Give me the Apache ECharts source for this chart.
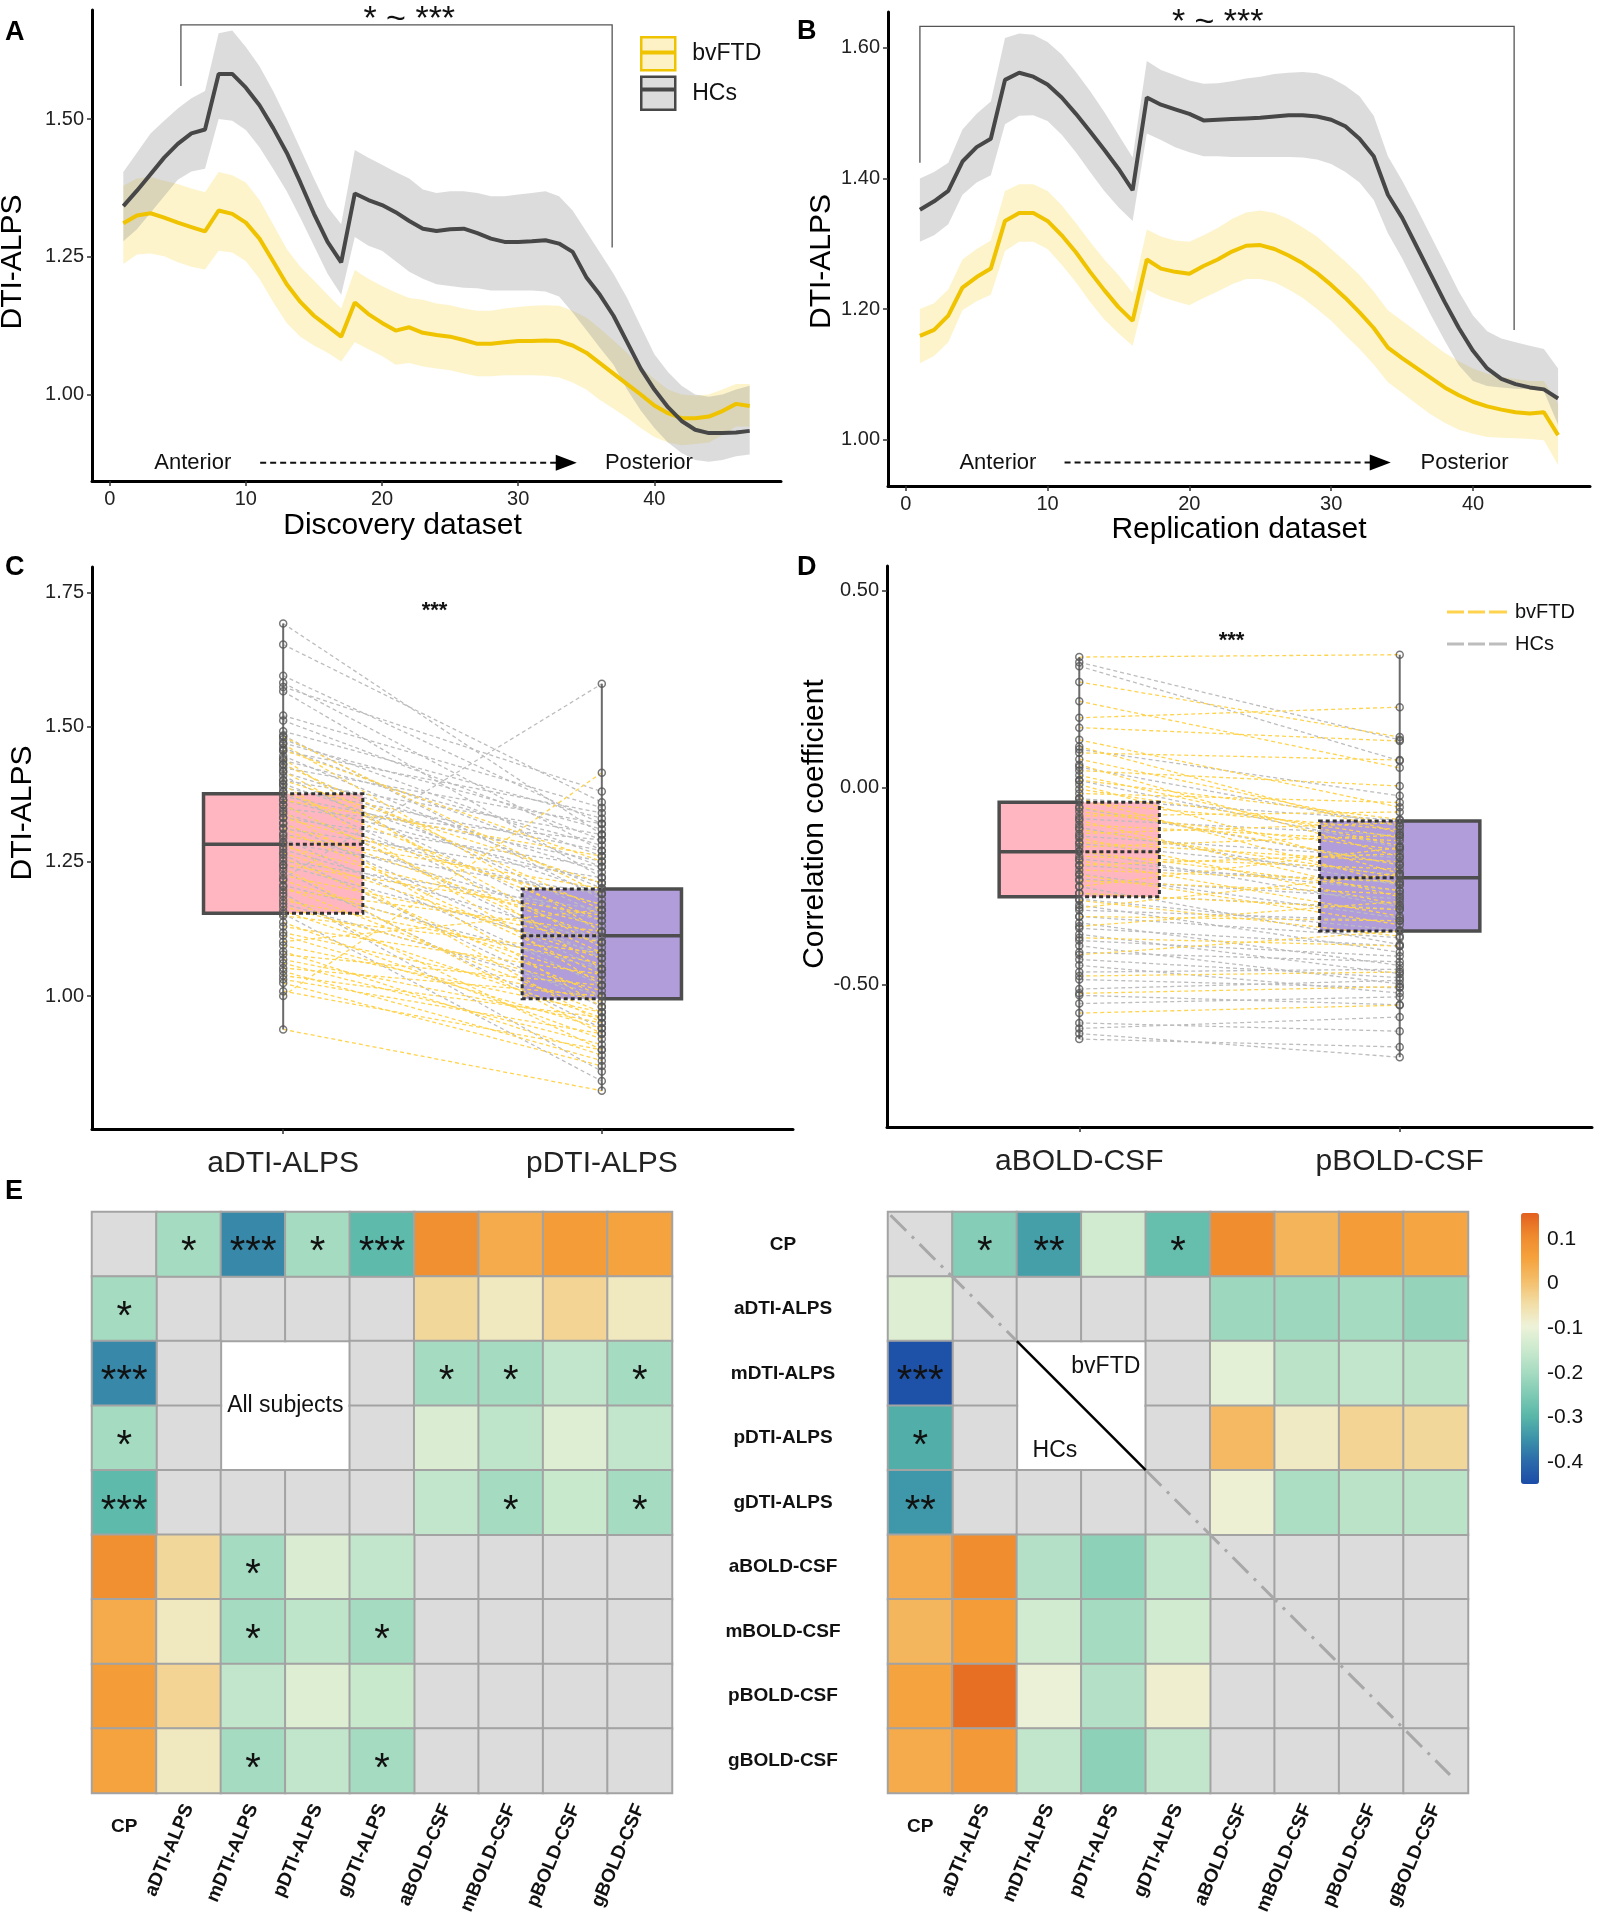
<!DOCTYPE html>
<html><head><meta charset="utf-8">
<script src="https://cdn.jsdelivr.net/npm/echarts@6/dist/echarts.min.js"></script>
<style>html,body{margin:0;padding:0;background:#fff}#c{width:1597px;height:1920px}</style>
</head><body><div id="c"></div>
<script>
// ---------- Panel A: Discovery dataset ----------
const hcA = [1.342,1.37,1.40,1.43,1.455,1.474,1.481,1.582,1.582,1.557,1.525,1.484,1.439,1.385,1.328,1.277,1.240,1.365,1.353,1.344,1.331,1.315,1.301,1.297,1.300,1.301,1.293,1.283,1.277,1.277,1.278,1.280,1.274,1.259,1.213,1.181,1.143,1.095,1.047,1.009,0.977,0.952,0.936,0.930,0.930,0.931,0.934];
const hcA_hi = [1.404,1.439,1.474,1.497,1.519,1.538,1.551,1.656,1.661,1.631,1.596,1.551,1.50,1.446,1.392,1.341,1.309,1.444,1.43,1.417,1.404,1.392,1.372,1.366,1.369,1.369,1.366,1.36,1.36,1.363,1.366,1.369,1.36,1.334,1.296,1.258,1.219,1.175,1.124,1.073,1.041,1.016,1.0,0.996,1.0,1.009,1.016];
const hcA_lo = [1.278,1.30,1.33,1.36,1.39,1.405,1.41,1.50,1.497,1.48,1.449,1.41,1.369,1.321,1.27,1.219,1.181,1.286,1.27,1.261,1.242,1.223,1.21,1.20,1.197,1.194,1.193,1.189,1.189,1.189,1.189,1.187,1.178,1.149,1.117,1.085,1.054,1.009,0.971,0.939,0.913,0.894,0.881,0.878,0.881,0.888,0.891];
const bvA = [1.311,1.325,1.329,1.321,1.312,1.304,1.296,1.334,1.328,1.312,1.283,1.242,1.20,1.168,1.143,1.124,1.105,1.167,1.146,1.130,1.116,1.122,1.112,1.108,1.105,1.099,1.092,1.092,1.095,1.097,1.097,1.098,1.097,1.089,1.076,1.057,1.038,1.019,1.0,0.98,0.966,0.957,0.957,0.960,0.970,0.983,0.979];
const bvA_hi = [1.379,1.392,1.395,1.388,1.382,1.374,1.367,1.404,1.398,1.385,1.353,1.309,1.264,1.232,1.207,1.181,1.156,1.226,1.21,1.197,1.185,1.175,1.172,1.165,1.162,1.156,1.152,1.152,1.156,1.159,1.161,1.162,1.161,1.152,1.14,1.12,1.098,1.076,1.05,1.028,1.009,1.0,0.998,1.0,1.009,1.019,1.019];
const bvA_lo = [1.237,1.254,1.256,1.251,1.24,1.232,1.227,1.261,1.258,1.242,1.21,1.168,1.13,1.105,1.089,1.076,1.06,1.095,1.082,1.07,1.054,1.057,1.051,1.047,1.044,1.038,1.033,1.033,1.035,1.035,1.035,1.034,1.031,1.022,1.009,0.99,0.974,0.958,0.939,0.923,0.913,0.908,0.91,0.913,0.926,0.942,0.942];

// ---------- Panel B: Replication dataset ----------
const hcB = [1.352,1.365,1.381,1.426,1.448,1.461,1.551,1.562,1.556,1.544,1.524,1.499,1.472,1.444,1.415,1.382,1.524,1.513,1.506,1.499,1.489,1.490,1.491,1.492,1.493,1.495,1.497,1.497,1.495,1.490,1.480,1.461,1.434,1.375,1.340,1.297,1.254,1.211,1.171,1.136,1.109,1.093,1.085,1.080,1.077,1.063];
const hcB_hi = [1.40,1.41,1.424,1.475,1.499,1.518,1.615,1.622,1.620,1.609,1.590,1.563,1.534,1.502,1.467,1.432,1.580,1.566,1.558,1.550,1.545,1.546,1.549,1.553,1.556,1.560,1.562,1.563,1.561,1.554,1.542,1.526,1.496,1.434,1.397,1.356,1.313,1.27,1.227,1.19,1.166,1.155,1.149,1.144,1.139,1.109];
const hcB_lo = [1.303,1.313,1.330,1.375,1.394,1.405,1.483,1.496,1.497,1.488,1.467,1.44,1.41,1.381,1.356,1.335,1.469,1.459,1.448,1.44,1.434,1.434,1.433,1.433,1.433,1.433,1.433,1.432,1.429,1.422,1.41,1.394,1.367,1.316,1.278,1.235,1.192,1.152,1.114,1.09,1.082,1.08,1.078,1.077,1.074,1.023];
const bvB = [1.159,1.168,1.19,1.233,1.249,1.262,1.335,1.347,1.347,1.335,1.313,1.287,1.257,1.229,1.203,1.182,1.276,1.262,1.257,1.254,1.266,1.276,1.288,1.297,1.298,1.292,1.282,1.270,1.255,1.237,1.217,1.195,1.171,1.141,1.125,1.110,1.095,1.080,1.068,1.058,1.051,1.046,1.042,1.040,1.042,1.007];
const bvB_hi = [1.20,1.209,1.23,1.276,1.292,1.305,1.381,1.391,1.391,1.381,1.359,1.332,1.303,1.276,1.252,1.225,1.322,1.311,1.305,1.303,1.313,1.324,1.338,1.348,1.351,1.347,1.338,1.325,1.311,1.292,1.273,1.252,1.227,1.198,1.182,1.166,1.149,1.133,1.12,1.109,1.101,1.096,1.093,1.09,1.09,1.055];
const bvB_lo = [1.117,1.128,1.149,1.198,1.212,1.222,1.289,1.303,1.303,1.292,1.268,1.241,1.211,1.184,1.163,1.144,1.23,1.219,1.212,1.206,1.217,1.227,1.238,1.246,1.246,1.241,1.23,1.217,1.2,1.182,1.16,1.139,1.115,1.088,1.072,1.055,1.039,1.026,1.015,1.009,1.004,1.003,1.002,1.001,0.999,0.961];

// ---------- Panel C: aDTI-ALPS vs pDTI-ALPS (paired) ----------
const catsC = ['aDTI-ALPS','pDTI-ALPS'];
const aC_bv = [1.482,1.468,1.457,1.441,1.430,1.418,1.401,1.393,1.380,1.364,1.355,1.343,1.331,1.320,1.312,1.298,1.286,1.278,1.266,1.257,1.244,1.238,1.224,1.215,1.203,1.197,1.186,1.178,1.166,1.158,1.149,1.137,1.129,1.118,1.112,1.101,1.094,1.083,1.077,1.068,1.061,1.052,1.046,1.038,1.031,1.024,1.009,1.000,0.938];
const pC_bv = [1.19,1.12,1.25,1.05,1.16,1.09,1.21,1.02,1.14,1.26,1.08,0.98,1.17,1.11,1.04,1.20,0.95,1.13,1.07,1.00,1.15,0.93,1.10,1.03,0.97,1.12,0.90,1.06,1.01,0.96,1.08,0.92,1.04,0.99,0.94,1.16,0.97,0.89,1.02,0.95,0.91,1.00,0.88,0.96,0.93,0.87,0.90,1.415,0.824];
const aC_hc = [1.692,1.653,1.595,1.582,1.574,1.566,1.521,1.512,1.492,1.484,1.477,1.470,1.461,1.455,1.446,1.438,1.431,1.424,1.416,1.409,1.401,1.394,1.387,1.379,1.371,1.364,1.356,1.348,1.339,1.331,1.322,1.311,1.302,1.293,1.284,1.272,1.263,1.251,1.243,1.232,1.218,1.206,1.191,1.172,1.153];
const pC_hc = [1.30,1.36,1.32,1.27,1.38,1.22,1.35,1.29,1.33,1.18,1.26,1.31,1.24,1.34,1.20,1.28,1.15,1.32,1.23,1.12,1.30,1.19,1.27,1.10,1.25,1.21,1.07,1.29,1.17,1.24,1.05,1.22,1.14,1.02,1.19,1.10,0.98,1.16,1.08,0.94,1.58,1.05,0.86,1.00,0.842];
const boxC_a = [1.154, 1.282, 1.376];   // q1, median, q3
const boxC_p = [0.995, 1.112, 1.199];

// ---------- Panel D: aBOLD-CSF vs pBOLD-CSF (paired) ----------
const catsD = ['aBOLD-CSF','pBOLD-CSF'];
const aD_bv = [0.331,0.268,0.219,0.177,0.152,0.121,0.104,0.088,0.072,0.058,0.043,0.031,0.019,0.008,-0.004,-0.015,-0.027,-0.038,-0.049,-0.061,-0.072,-0.083,-0.094,-0.106,-0.117,-0.128,-0.139,-0.151,-0.162,-0.174,-0.185,-0.197,-0.209,-0.221,-0.236,-0.251,-0.268,-0.286,-0.305,-0.327,-0.352,-0.381,-0.424,-0.478,-0.522,-0.572];
const pD_bv = [0.337,0.128,0.05,0.204,0.118,-0.05,-0.115,0.07,-0.098,-0.176,0.004,-0.148,-0.081,-0.218,-0.127,-0.038,-0.246,-0.107,-0.196,-0.158,-0.062,-0.277,-0.135,-0.226,-0.089,-0.298,-0.188,-0.121,-0.261,-0.207,-0.326,-0.168,-0.238,-0.348,-0.27,-0.152,-0.31,-0.377,-0.218,-0.338,-0.289,-0.402,-0.364,-0.468,-0.505,-0.552];
const aD_hc = [0.318,0.308,0.097,0.052,0.018,-0.028,-0.052,-0.079,-0.101,-0.123,-0.142,-0.161,-0.181,-0.198,-0.219,-0.232,-0.251,-0.268,-0.283,-0.298,-0.311,-0.327,-0.343,-0.357,-0.372,-0.388,-0.401,-0.418,-0.436,-0.451,-0.468,-0.487,-0.511,-0.527,-0.548,-0.597,-0.611,-0.624,-0.638];
const pD_hc = [0.121,0.068,-0.021,-0.098,-0.152,-0.083,-0.197,-0.121,-0.248,-0.178,-0.221,-0.302,-0.262,-0.241,-0.331,-0.282,-0.398,-0.308,-0.362,-0.418,-0.338,-0.381,-0.451,-0.402,-0.472,-0.428,-0.498,-0.442,-0.482,-0.521,-0.461,-0.508,-0.489,-0.551,-0.531,-0.618,-0.582,-0.684,-0.658];
const boxD_a = [-0.277, -0.163, -0.037];
const boxD_p = [-0.364, -0.229, -0.085];

// ---------- Panel E: correlation matrices ----------
const vars = ['CP','aDTI-ALPS','mDTI-ALPS','pDTI-ALPS','gDTI-ALPS','aBOLD-CSF','mBOLD-CSF','pBOLD-CSF','gBOLD-CSF'];
const blankIdx = [2, 3];
const allR = [
  [null,-0.20,-0.36,-0.20,-0.29,0.095,0.04,0.07,0.055],
  [-0.20,null,null,null,null,-0.035,-0.07,-0.03,-0.07],
  [-0.36,null,null,null,null,-0.20,-0.20,-0.16,-0.20],
  [-0.20,null,null,null,null,-0.125,-0.165,-0.12,-0.16],
  [-0.29,null,null,null,null,-0.16,-0.20,-0.15,-0.20],
  [0.095,-0.035,-0.20,-0.125,-0.16,null,null,null,null],
  [0.04,-0.07,-0.20,-0.165,-0.20,null,null,null,null],
  [0.07,-0.03,-0.16,-0.12,-0.15,null,null,null,null],
  [0.055,-0.07,-0.20,-0.16,-0.20,null,null,null,null]
];
const allSig = [
  ['','*','***','*','***','','','',''],
  ['*','','','','','','','',''],
  ['***','','','','','*','*','','*'],
  ['*','','','','','','','',''],
  ['***','','','','','','*','','*'],
  ['','','*','','','','','',''],
  ['','','*','','*','','','',''],
  ['','','','','','','','',''],
  ['','','*','','*','','','','']
];
const grpR = [
  [null,-0.24,-0.33,-0.14,-0.28,0.10,0.025,0.07,0.05],
  [-0.12,null,null,null,null,-0.21,-0.21,-0.20,-0.22],
  [-0.44,null,null,null,null,-0.11,-0.17,-0.16,-0.17],
  [-0.31,null,null,null,null,0.015,-0.075,-0.03,-0.035],
  [-0.34,null,null,null,null,-0.09,-0.19,-0.17,-0.17],
  [0.04,0.10,-0.18,-0.23,-0.16,null,null,null,null],
  [0.02,0.07,-0.14,-0.20,-0.14,null,null,null,null],
  [0.055,0.14,-0.10,-0.18,-0.085,null,null,null,null],
  [0.04,0.075,-0.16,-0.23,-0.16,null,null,null,null]
];
const grpSig = [
  ['','*','**','','*','','','',''],
  ['','','','','','','','',''],
  ['***','','','','','','','',''],
  ['*','','','','','','','',''],
  ['**','','','','','','','',''],
  ['','','','','','','','',''],
  ['','','','','','','','',''],
  ['','','','','','','','',''],
  ['','','','','','','','','']
];
const cbTicks = [0.1, 0, -0.1, -0.2, -0.3, -0.4];

// =================== build ===================
const FONT = 'Liberation Sans, Arial, sans-serif';
const series = [];
function add(s){ series.push(s); return series.length - 1; }

function ribbon(lo, hi, color, ai){
  const xs = lo.map((_, i) => i + 1);
  return {type:'custom', xAxisIndex:ai, yAxisIndex:ai, silent:true, z:1, clip:true,
    data:[[xs[0], lo[0]]],
    renderItem:(p, api) => {
      const pts = [];
      for (let i = 0; i < xs.length; i++) pts.push(api.coord([xs[i], hi[i]]));
      for (let i = xs.length - 1; i >= 0; i--) pts.push(api.coord([xs[i], lo[i]]));
      return {type:'polygon', shape:{points:pts}, style:{fill:color}};
    }};
}
function meanLine(name, v, color, ai){
  return {type:'line', name, xAxisIndex:ai, yAxisIndex:ai, z:3, silent:true, showSymbol:false, symbol:'none',
    data: v.map((y, i) => [i + 1, y]), lineStyle:{color, width:4}, itemStyle:{color}};
}
const YEL = '#EFC300', DARK = '#474747';
add(ribbon(bvA_lo, bvA_hi, 'rgba(245,205,20,0.22)', 0));
add(ribbon(hcA_lo, hcA_hi, 'rgba(150,150,150,0.33)', 0));
add(meanLine('bvFTD', bvA, YEL, 0));
add(meanLine('HCs', hcA, DARK, 0));
add(ribbon(bvB_lo, bvB_hi, 'rgba(245,205,20,0.22)', 1));
add(ribbon(hcB_lo, hcB_hi, 'rgba(150,150,150,0.33)', 1));
add(meanLine('bvFTD', bvB, YEL, 1));
add(meanLine('HCs', hcB, DARK, 1));

function annot(ai, cfg){
  return {type:'custom', xAxisIndex:ai, yAxisIndex:ai, silent:true, clip:false, z:6,
    data:[[cfg.starX, cfg.starY]],
    renderItem:(p, api) => {
      const c = api.coord;
      const L = c([cfg.bl[0], cfg.bl[1]]), R = c([cfg.br[0], cfg.br[1]]), yt = c([0, cfg.btop])[1];
      const st = c([cfg.starX, cfg.starY]);
      const ay = c([0, cfg.arrY])[1];
      const a1 = c([cfg.arrX1, 0])[0], a2 = c([cfg.arrX2, 0])[0];
      const an = c([cfg.antX, 0])[0], po = c([cfg.posX, 0])[0];
      const tf = '22px ' + FONT;
      return {type:'group', children:[
        {type:'polyline', shape:{points:[[L[0],L[1]],[L[0],yt],[R[0],yt],[R[0],R[1]]]}, style:{stroke:'#555', lineWidth:1.3, fill:'none'}},
        {type:'text', x:st[0], y:st[1] + 9, style:{text:'* ~ ***', font:'34px ' + FONT, fill:'#111', align:'center', verticalAlign:'middle'}},
        {type:'text', x:an, y:ay, style:{text:'Anterior', font:tf, fill:'#111', align:'center', verticalAlign:'middle'}},
        {type:'text', x:po, y:ay, style:{text:'Posterior', font:tf, fill:'#111', align:'center', verticalAlign:'middle'}},
        {type:'line', shape:{x1:a1, y1:ay, x2:a2 - 20, y2:ay}, style:{stroke:'#111', lineWidth:2, lineDash:[6,4]}},
        {type:'polygon', shape:{points:[[a2, ay],[a2 - 21, ay - 8],[a2 - 21, ay + 8]]}, style:{fill:'#000'}}
      ]};
    }};
}
add(annot(0, {bl:[5.23,1.56], br:[36.9,1.267], btop:1.671, starX:22.0, starY:1.697, arrY:0.876, arrX1:11.05, arrX2:34.3, antX:6.1, posX:39.6}));
add(annot(1, {bl:[1.0,1.424], br:[42.9,1.168], btop:1.633, starX:22.0, starY:1.652, arrY:0.965, arrX1:11.2, arrX2:34.2, antX:6.5, posX:39.4}));

// ---- paired box panels ----
const PINK = '#FFB6C1', PURP = '#B09DDA';
function boxSeries(ai, ba, bp, dashed){
  return {type:'custom', xAxisIndex:ai, yAxisIndex:ai, silent:true, z: dashed ? 4 : 2, clip:false,
    encode:{x:0, y:1},
    data:[[1, ba[0], ba[1], ba[2], -1], [2, bp[0], bp[1], bp[2], 1]],
    renderItem:(p, api) => {
      const x = api.value(0), q1 = api.value(1), md = api.value(2), q3 = api.value(3), side = api.value(4);
      const xl = api.coord([x - 0.25, q3])[0], xc = api.coord([x, q3])[0], xr = api.coord([x + 0.25, q3])[0];
      const yt = api.coord([x, q3])[1], ym = api.coord([x, md])[1], yb = api.coord([x, q1])[1];
      const outer = side < 0 ? xl : xr, inner = side < 0 ? xr : xl;
      if (!dashed) {
        return {type:'group', children:[
          {type:'rect', shape:{x:xl, y:yt, width:xr - xl, height:yb - yt}, style:{fill: x === 1 ? PINK : PURP}},
          {type:'polyline', shape:{points:[[xc,yt],[outer,yt],[outer,yb],[xc,yb]]}, style:{stroke:'#4d4d4d', lineWidth:3.5, fill:'none'}},
          {type:'line', shape:{x1:outer, y1:ym, x2:xc, y2:ym}, style:{stroke:'#4d4d4d', lineWidth:3.5}}
        ]};
      }
      return {type:'group', children:[
        {type:'polyline', shape:{points:[[xc,yt],[inner,yt],[inner,yb],[xc,yb]]}, style:{stroke:'#333', lineWidth:3, lineDash:[4,3], fill:'none'}},
        {type:'line', shape:{x1:inner, y1:ym, x2:xc, y2:ym}, style:{stroke:'#333', lineWidth:3, lineDash:[4,3]}}
      ]};
    }};
}
function pairLines(ai, name, av, pv, color){
  return {type:'custom', name, xAxisIndex:ai, yAxisIndex:ai, silent:true, z:3, clip:false,
    encode:{x:0, y:1}, itemStyle:{color},
    data: av.map((a, i) => [1, a, pv[i]]),
    renderItem:(p, api) => {
      const s = api.coord([1, api.value(1)]), e = api.coord([2, api.value(2)]);
      return {type:'line', shape:{x1:s[0], y1:s[1], x2:e[0], y2:e[1]}, style:{stroke:color, lineWidth:1.3, lineDash:[4,3]}};
    }};
}
function whisker(ai, av, pv){
  const aMin = Math.min(...av), aMax = Math.max(...av), pMin = Math.min(...pv), pMax = Math.max(...pv);
  return [
    {type:'line', xAxisIndex:ai, yAxisIndex:ai, silent:true, z:5, symbol:'none', data:[[1,aMin],[1,aMax]], lineStyle:{color:'#6b6b6b', width:2}},
    {type:'line', xAxisIndex:ai, yAxisIndex:ai, silent:true, z:5, symbol:'none', data:[[2,pMin],[2,pMax]], lineStyle:{color:'#6b6b6b', width:2}}
  ];
}
function points(ai, av, pv){
  return {type:'scatter', xAxisIndex:ai, yAxisIndex:ai, silent:true, z:6, symbol:'circle', symbolSize:7,
    itemStyle:{color:'rgba(255,255,255,0)', borderColor:'#555', borderWidth:1.5},
    data: av.map(v => [1, v]).concat(pv.map(v => [2, v]))};
}
function stars(ai, x, y){
  return {type:'custom', xAxisIndex:ai, yAxisIndex:ai, silent:true, z:7, clip:false, data:[[x, y]],
    renderItem:(p, api) => { const c = api.coord([x, y]);
      return {type:'text', x:c[0], y:c[1], style:{text:'***', font:'bold 22px ' + FONT, fill:'#111', align:'center', verticalAlign:'middle'}}; }};
}
add(boxSeries(2, boxC_a, boxC_p, false));
add(pairLines(2, 'HCs', aC_hc, pC_hc, '#BDBDBD'));
add(pairLines(2, 'bvFTD', aC_bv, pC_bv, '#FFD34E'));
add(boxSeries(2, boxC_a, boxC_p, true));
whisker(2, aC_bv.concat(aC_hc), pC_bv.concat(pC_hc)).forEach(add);
add(points(2, aC_bv.concat(aC_hc), pC_bv.concat(pC_hc)));
add(stars(2, 1.475, 1.716));

add(boxSeries(3, boxD_a, boxD_p, false));
add(pairLines(3, 'HCs', aD_hc, pD_hc, '#BDBDBD'));
add(pairLines(3, 'bvFTD', aD_bv, pD_bv, '#FFD34E'));
add(boxSeries(3, boxD_a, boxD_p, true));
whisker(3, aD_bv.concat(aD_hc), pD_bv.concat(pD_hc)).forEach(add);
add(points(3, aD_bv.concat(aD_hc), pD_bv.concat(pD_hc)));
add(stars(3, 1.475, 0.372));

// ---- heatmaps ----
function heatSeries(mat, sig, xi, yi){
  const vals = [], grays = [];
  for (let i = 0; i < 9; i++) for (let j = 0; j < 9; j++) {
    const v = mat[i][j];
    const blank = blankIdx.includes(i) && blankIdx.includes(j);
    if (v === null) { if (!blank) grays.push([j, i, 0, '']); }
    else vals.push([j, i, v, sig[i][j]]);
  }
  const base = {type:'heatmap', xAxisIndex:xi, yAxisIndex:yi, silent:true,
    itemStyle:{borderColor:'#A3A3A3', borderWidth:2}, emphasis:{disabled:true}};
  add(Object.assign({}, base, {data:grays, itemStyle:{color:'#DCDCDC', borderColor:'#A3A3A3', borderWidth:2}, label:{show:false}}));
  const h = add(Object.assign({}, base, {data:vals,
    label:{show:true, formatter:p => p.data[3], fontSize:40, color:'#111', offset:[0, 9], fontFamily:FONT}}));
  return h;
}
const h1 = heatSeries(allR, allSig, 4, 4);
const h2 = heatSeries(grpR, grpSig, 7, 6);

add({type:'custom', xAxisIndex:6, yAxisIndex:5, silent:true, z:5, clip:false, data:[[3, 3]],
  renderItem:(p, api) => { const c = api.coord([3, 3]);
    return {type:'text', x:c[0], y:c[1], style:{text:'All subjects', font:'23px ' + FONT, fill:'#111', align:'center', verticalAlign:'middle'}}; }});
add({type:'custom', xAxisIndex:9, yAxisIndex:7, silent:true, z:5, clip:false, data:[[0, 0]],
  renderItem:(p, api) => {
    const c = api.coord;
    const d = {stroke:'#A8A8A8', lineWidth:3, lineDash:[22, 8, 3, 8]};
    const a = c([0.04, 0.05]), b = c([2, 2]), e = c([4, 4]), f = c([8.72, 8.72]);
    const t1 = c([3.38, 2.4]), t2 = c([2.59, 3.69]);
    return {type:'group', children:[
      {type:'line', shape:{x1:a[0], y1:a[1], x2:b[0], y2:b[1]}, style:d},
      {type:'line', shape:{x1:e[0], y1:e[1], x2:f[0], y2:f[1]}, style:d},
      {type:'line', shape:{x1:b[0], y1:b[1], x2:e[0], y2:e[1]}, style:{stroke:'#000', lineWidth:2.5}},
      {type:'text', x:t1[0], y:t1[1], style:{text:'bvFTD', font:'23px ' + FONT, fill:'#111', align:'center', verticalAlign:'middle'}},
      {type:'text', x:t2[0], y:t2[1], style:{text:'HCs', font:'23px ' + FONT, fill:'#111', align:'center', verticalAlign:'middle'}}
    ]};
  }});

// ---------- axes ----------
const AX = {lineStyle:{color:'#000', width:3}, onZero:false};
const TK = {length:5, lineStyle:{color:'#333', width:1.5}};
function valX(gi, min, max, ticks, name, nameGap, pad){
  return {type:'value', gridIndex:gi, min, max, axisLine:AX, splitLine:{show:false},
    axisTick:Object.assign({customValues:ticks}, TK),
    axisLabel:{customValues:ticks, fontSize:20, color:'#222', margin:8, fontFamily:FONT},
    name, nameLocation:'middle', nameGap, nameTextStyle:{fontSize:30, color:'#000', fontFamily:FONT, padding:pad}};
}
function valY(gi, min, max, ticks, name, nameGap, pad){
  return {type:'value', gridIndex:gi, min, max, axisLine:AX, splitLine:{show:false},
    axisTick:Object.assign({customValues:ticks}, TK),
    axisLabel:{customValues:ticks, fontSize:20, color:'#222', margin:8, fontFamily:FONT, formatter:v => v.toFixed(2)},
    name, nameLocation:'middle', nameGap, nameTextStyle:{fontSize:30, color:'#000', fontFamily:FONT, padding:pad}};
}
function catX(gi, cats){
  return {type:'value', gridIndex:gi, min:0.4, max:2.6, axisLine:AX, splitLine:{show:false},
    axisTick:Object.assign({customValues:[1,2]}, TK),
    axisLabel:{customValues:[1,2], fontSize:30, color:'#222', margin:20, fontFamily:FONT, formatter:v => cats[v - 1]}};
}
const hidden = {show:false};
const xAxis = [
  valX(0, -1.3, 49.3, [0,10,20,30,40], 'Discovery dataset', 30, [0,68,0,0]),
  valX(1, -1.25, 48.25, [0,10,20,30,40], 'Replication dataset', 27, [0,0,0,0]),
  catX(2, catsC),
  catX(3, catsD),
  {type:'category', gridIndex:4, data:vars, position:'bottom', axisLine:hidden, axisTick:hidden,
    axisLabel:{interval:0, rotate:67, fontWeight:'bold', fontSize:19, color:'#111', margin:12, fontFamily:FONT, formatter:v => v === 'CP' ? '' : v}},
  {type:'category', gridIndex:4, data:vars, position:'bottom', axisLine:hidden, axisTick:hidden,
    axisLabel:{interval:0, fontWeight:'bold', fontSize:19, color:'#111', margin:24, fontFamily:FONT, formatter:v => v === 'CP' ? 'CP' : ''}},
  {type:'value', gridIndex:4, min:0, max:9, show:false},
  {type:'category', gridIndex:5, data:vars, position:'bottom', axisLine:hidden, axisTick:hidden,
    axisLabel:{interval:0, rotate:67, fontWeight:'bold', fontSize:19, color:'#111', margin:12, fontFamily:FONT, formatter:v => v === 'CP' ? '' : v}},
  {type:'category', gridIndex:5, data:vars, position:'bottom', axisLine:hidden, axisTick:hidden,
    axisLabel:{interval:0, fontWeight:'bold', fontSize:19, color:'#111', margin:24, fontFamily:FONT, formatter:v => v === 'CP' ? 'CP' : ''}},
  {type:'value', gridIndex:5, min:0, max:9, show:false},
  {type:'value', gridIndex:6, min:0, max:1, show:false}
];
const yAxis = [
  valY(0, 0.843, 1.698, [1.00,1.25,1.50], 'DTI-ALPS', 64, [0,33,0,0]),
  valY(1, 0.929, 1.655, [1.00,1.20,1.40,1.60], 'DTI-ALPS', 50, [0,25,0,0]),
  valY(2, 0.753, 1.797, [1.00,1.25,1.50,1.75], 'DTI-ALPS', 54, [0,0,0,70]),
  valY(3, -0.861, 0.562, [-0.50,0.00,0.50], 'Correlation coefficient', 48, [0,0,0,45]),
  {type:'category', gridIndex:4, data:vars, inverse:true, position:'right', axisLine:hidden, axisTick:hidden,
    axisLabel:{interval:0, align:'center', margin:111, fontWeight:'bold', fontSize:19, color:'#111', fontFamily:FONT}},
  {type:'value', gridIndex:4, min:0, max:9, inverse:true, show:false},
  {type:'category', gridIndex:5, data:vars, inverse:true, axisLine:hidden, axisTick:hidden, axisLabel:hidden},
  {type:'value', gridIndex:5, min:0, max:9, inverse:true, show:false},
  {type:'value', gridIndex:6, min:-0.449, max:0.158, position:'right', axisLine:hidden, axisTick:hidden, splitLine:hidden,
    axisLabel:{customValues:cbTicks, fontSize:21, color:'#111', margin:8, fontFamily:FONT, formatter:v => String(v)}}
];
const G = (l, t, w, h) => ({left:l, top:t, width:w, height:h, containLabel:false, outerBoundsMode:'none'});

const option = {
  animation:false,
  backgroundColor:'#fff',
  textStyle:{fontFamily:FONT},
  title:[
    {text:'A', left:5, top:19}, {text:'B', left:797, top:18}, {text:'C', left:5, top:554},
    {text:'D', left:797, top:554}, {text:'E', left:5, top:1178}
  ].map(t => Object.assign(t, {padding:0, textStyle:{fontSize:27, fontWeight:'bold', color:'#000', fontFamily:FONT}})),
  grid:[G(92,10,689,471), G(888,12,702,474), G(92,567,701,562), G(887,566,705,561), G(92,1212,580,581), G(888,1212,580,581), G(1521,1213,18,271)],
  xAxis, yAxis,
  legend:[
    {left:635, top:31, orient:'vertical', itemWidth:34, itemHeight:33, itemGap:4, icon:'rect', selectedMode:false,
      data:[{name:'bvFTD', itemStyle:{color:'#FCF2C6', borderColor:YEL, borderWidth:2.5}}, {name:'HCs', itemStyle:{color:'#DCDCDC', borderColor:DARK, borderWidth:2.5}}],
      textStyle:{fontSize:23, color:'#111', padding:[0,0,0,12], fontFamily:FONT}},
    {left:635, top:31, orient:'vertical', itemWidth:34, itemHeight:33, itemGap:4, selectedMode:false, symbolKeepAspect:false,
      icon:'path://M0,0h0.01v33h-0.01zM0,14.5h34v4h-34z',
      data:[{name:'bvFTD', itemStyle:{color:YEL, borderWidth:0}}, {name:'HCs', itemStyle:{color:DARK, borderWidth:0}}],
      textStyle:{fontSize:23, color:'rgba(0,0,0,0)', padding:[0,0,0,12], fontFamily:FONT}},
    {left:1442, top:596, orient:'vertical', itemWidth:60, itemHeight:3, itemGap:10, selectedMode:false, symbolKeepAspect:false,
      icon:'path://M0,0h17v3h-17zM21,0h17v3h-17zM42,0h18v3h-18z',
      data:[{name:'bvFTD', itemStyle:{color:'#FFD34E', borderWidth:0}}, {name:'HCs', itemStyle:{color:'#BDBDBD', borderWidth:0}}],
      textStyle:{fontSize:20, color:'#111', lineHeight:22, padding:[0,0,0,3], fontFamily:FONT}}
  ],
  visualMap:{type:'continuous', seriesIndex:[h1, h2], dimension:2, min:-0.449, max:0.158, calculable:false,
    left:1521, top:1213, itemWidth:18, itemHeight:271, padding:0, text:null, showLabel:false,
    inRange:{color:['#1B4DA8','#2B6AAA','#3B92A9','#58B7A9','#80CBB4','#A8DCC2','#CCEACE','#EEF2D8','#F2DDA5','#F4BE6A','#F5A23C','#EF8A2D','#E2601F']}},
  series
};
const chart = echarts.init(document.getElementById('c'), null, {renderer:'canvas'});
chart.setOption(option);
</script>
</body></html>
